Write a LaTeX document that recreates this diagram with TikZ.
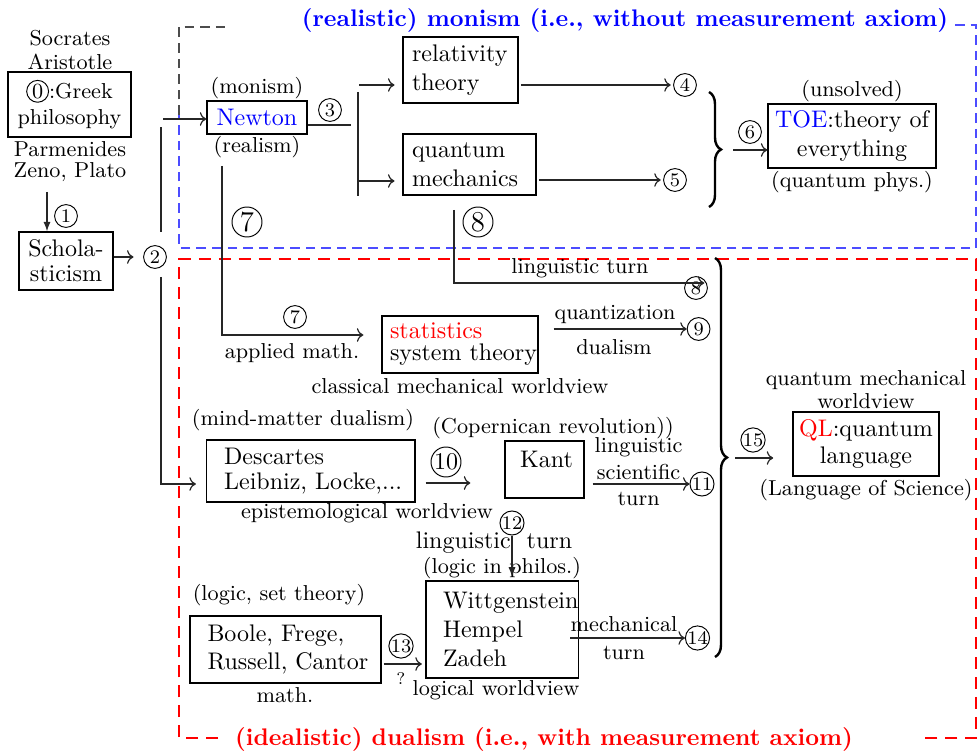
\documentclass[tikz,border=0pt]{standalone}
\usetikzlibrary{arrows.meta,decorations.pathreplacing}
\newcommand{\czero}{\tikz[baseline=(z.base)]\node[shape=circle,draw,inner sep=0.5pt,minimum size=0pt,line width=0.4pt](z){0};}
\begin{document}
\begin{tikzpicture}[x=0.41667pt,y=-0.41667pt,
  box/.style={draw, line width=0.5pt, inner sep=0pt},
  lab/.style={font=\small, align=center, inner sep=0pt},
  cn/.style={circle, draw, inner sep=0pt, minimum size=9.5pt, font=\footnotesize},
  bcn/.style={circle, draw, inner sep=0pt, minimum size=12.5pt, font=\normalsize},
  conn/.style={line width=0.5pt, draw=black!85},
  arr/.style={conn, ->},
  farr/.style={conn, -{Latex[length=4pt,width=3pt]}},
  brc/.style={decorate, decoration={brace, amplitude=5pt}, line width=1pt},
]
\useasboundingbox (0,0) rectangle (979,753);

% frames
\draw[blue!70, line width=0.5pt, dash pattern=on 4pt off 2.5pt] (955,25) -- (976,25) -- (976,248) -- (179,248) -- (179,115);
\draw[black!70, line width=0.5pt, dash pattern=on 4pt off 2.5pt] (179,115) -- (179,27) -- (230,27);
\draw[red, line width=0.8pt, dash pattern=on 5pt off 3.3pt] (218,738) -- (179,738) -- (179,259) -- (976,259) -- (976,738) -- (923,738);

% titles
\node[font=\bfseries, text=blue, inner sep=0pt] (t1) at (625,20) {(realistic) monism (i.e., without measurement axiom)};
\node[font=\bfseries, text=red, inner sep=0pt] (t2) at (544,739) {(idealistic) dualism (i.e., with measurement axiom)};

% boxes
\node[box, minimum width=51.25pt, minimum height=27.1pt, font=\small, align=center] (greek) at (69.5,104.5) {\czero:Greek\\philosophy};
\node[box, minimum width=39.2pt, minimum height=24.2pt, align=center] (schol) at (66,261) {Schola-\\[-1.6pt]sticism};
\node[box, minimum width=41.7pt, minimum height=13.75pt, text=blue] (newton) at (257,117.5) {Newton};
\node[box, minimum width=47.9pt, minimum height=27.5pt, text width=40.4pt, align=left] (relat) at (460.5,70) {\mbox{relativity}\\\mbox{theory}};
\node[box, minimum width=55.4pt, minimum height=25.4pt, text width=47.9pt, align=left] (quant) at (469.5,164.5) {\mbox{quantum}\\\mbox{mechanics}};
\node[box, minimum width=70pt, minimum height=26.7pt, align=center] (toe) at (852,136) {\textcolor{blue}{TOE}:theory of\\everything};
\node[box, minimum width=65pt, minimum height=23.75pt, text width=58.3pt, align=left] (stat) at (460,344.5) {\mbox{\textcolor{red}{statistics}}\\[-2.8pt]\mbox{system theory}};
\node[box, minimum width=87pt, minimum height=25.8pt, text width=72pt, align=left] (desc) at (310.5,471) {\mbox{Descartes}\\[-1.6pt]\mbox{Leibniz, Locke,...}};
\node[box, minimum width=32.9pt, minimum height=23.75pt, align=center] (kant) at (544.5,469.5) {\,Kant\\[-7pt]\strut};
\node[box, minimum width=79.6pt, minimum height=27.9pt, text width=65pt, align=left] (boole) at (285.5,649.5) {\mbox{Boole, Frege,}\\\mbox{Russell, Cantor}};
\node[box, minimum width=63.6pt, minimum height=40.4pt, text width=49.4pt, align=left] (wit) at (502.3,629.5) {\mbox{Wittgenstein}\\\mbox{Hempel}\\\mbox{Zadeh}};
\node[box, minimum width=60.8pt, minimum height=26.7pt, align=center] (ql) at (866,444) {\textcolor{red}{QL}:quantum\\[-0.75pt]language};

% labels
\node[lab] (soc) at (70,50) {Socrates\\[-1.4pt]Aristotle};
\node[lab] (parm) at (70,162) {Parmenides\\[-2.2pt]Zeno, Plato};
\node[lab] (mon) at (257,88) {(monism)};
\node[lab] (real) at (257,147) {(realism)};
\node[lab] (uns) at (852,91) {(unsolved)};
\node[lab] (qph) at (852,182) {(quantum phys.)};
\node[lab] (app) at (292,353) {applied math.};
\node[lab] (cmw) at (460,386) {classical mechanical worldview};
\node[lab] (lt1) at (580,268) {linguistic turn};
\node[lab] (qz) at (615,315) {quantization};
\node[lab] (dual) at (614,347) {dualism};
\node[lab] (mmd) at (303,420) {(mind-matter dualism)};
\node[lab] (cop) at (553,428) {(Copernican revolution))};
\node[lab] (lst) at (638.6,472) {linguistic\\scientific\\turn};
\node[lab] (epi) at (367,513) {epistemological worldview};
\node[lab, font=\normalsize] (lt2) at (494,543) {linguistic\ \ turn};
\node[lab] (lip) at (502,568) {(logic in philos.)};
\node[lab] (lset) at (279,595) {(logic, set theory)};
\node[lab] (mth) at (285,695) {math.};
\node[lab, font=\scriptsize] (qm) at (401,679) {?};
\node[lab] (lw) at (496,690) {logical worldview};
\node[lab] (mech) at (624,624) {mechanical};
\node[lab] (tn) at (624,653) {turn};
\node[lab] (qmw) at (866,390) {quantum mechanical\\[-1.5pt]worldview};
\node[lab] (los) at (866,490) {(Language of Science)};

% circled numbers
\node[cn] (c1) at (66,216) {1};
\node[cn] (c2) at (155,257) {2};
\node[cn] (c3) at (330,110) {3};
\node[cn] (c4) at (685,85) {4};
\node[cn] (c5) at (675,180) {5};
\node[cn] (c6) at (750,132) {6};
\node[bcn, font=\large] (c7b) at (247,222) {7};
\node[bcn, font=\large] (c8b) at (478,222) {8};
\node[cn] (c7) at (295,317) {7};
\node[cn] (c8) at (696,288) {8};
\node[cn] (c9) at (698.6,329) {9};
\node[bcn] (c10) at (446,462) {10};
\node[cn] (c11) at (702,484) {11};
\node[cn] (c12) at (512,523) {12};
\node[cn] (c13) at (401,646) {13};
\node[cn] (c14) at (697.5,638) {14};
\node[cn] (c15) at (753,440) {15};

% coordinates
\coordinate (p1) at (47,192);
\coordinate (v1) at (161,232);
\coordinate (v2) at (161,127);
\coordinate (n0) at (163,119);
\coordinate (v3) at (161,277);
\coordinate (v4) at (161,484);
\coordinate (n3) at (351,125);
\coordinate (b1) at (358,92);
\coordinate (b2) at (358,196);
\coordinate (r0) at (359,85);
\coordinate (q0) at (359,181);
\coordinate (br1a) at (709,92);
\coordinate (br1b) at (709,207);
\coordinate (t0) at (733,150);
\coordinate (s7a) at (222,166);
\coordinate (s7b) at (222,335);
\coordinate (s8a) at (454,210);
\coordinate (s8b) at (454,283);
\coordinate (d10) at (425,483);
\coordinate (b13) at (383,664);
\coordinate (w14) at (570,638);
\coordinate (br2a) at (715,258);
\coordinate (br2b) at (715,657);
\coordinate (q15) at (735,458);

% connectors
\draw[farr] (p1) -- (p1 |- schol.north);
\draw[arr, shorten >=4pt] (schol.east |- c2) -- (c2.west);
\draw[conn] (v1) -- (v2);
\draw[arr] (n0) -- (n0 -| newton.west);
\draw[arr, shorten >=4pt] (v3) -- (v4) -- (v4 -| desc.west);
\draw[conn] (newton.east |- n3) -- (n3);
\draw[conn] (b1) -- (b2);
\draw[arr, shorten >=3.3pt] (r0) -- (r0 -| relat.west);
\draw[arr, shorten >=3.3pt] (q0) -- (q0 -| quant.west);
\draw[arr, shorten <=1pt, shorten >=1pt] (relat.east |- c4) -- (c4.west);
\draw[arr, shorten <=1pt, shorten >=1pt] (quant.east |- c5) -- (c5.west);
\draw[brc] (br1a) -- (br1b);
\draw[arr] (t0) -- (t0 -| toe.west);
\draw[arr, shorten >=7.5pt] (s7a) -- (s7b) -- (s7b -| stat.west);
\draw[arr, shorten >=1.5pt] (s8a) -- (s8b) -- (s8b -| c8.east);
\draw[arr, shorten <=6.25pt] (stat.east |- c9) -- (c9.west);
\draw[arr, shorten <=4.2pt, shorten >=14.2pt] (desc.east |- d10) -- (d10 -| kant.west);
\draw[arr, shorten <=3.3pt] (kant.east |- c11) -- (c11.west);
\draw[farr, shorten >=1.5pt] (c12.south) -- (c12.south |- wit.north);
\draw[arr, shorten <=0.8pt, shorten >=1.5pt] (boole.east |- b13) -- (b13 -| wit.west);
\draw[arr] (w14) -- (c14.west);
\draw[brc] (br2a) -- (br2b);
\draw[arr, shorten >=8pt] (q15) -- (q15 -| ql.west);
\end{tikzpicture}
\end{document}
